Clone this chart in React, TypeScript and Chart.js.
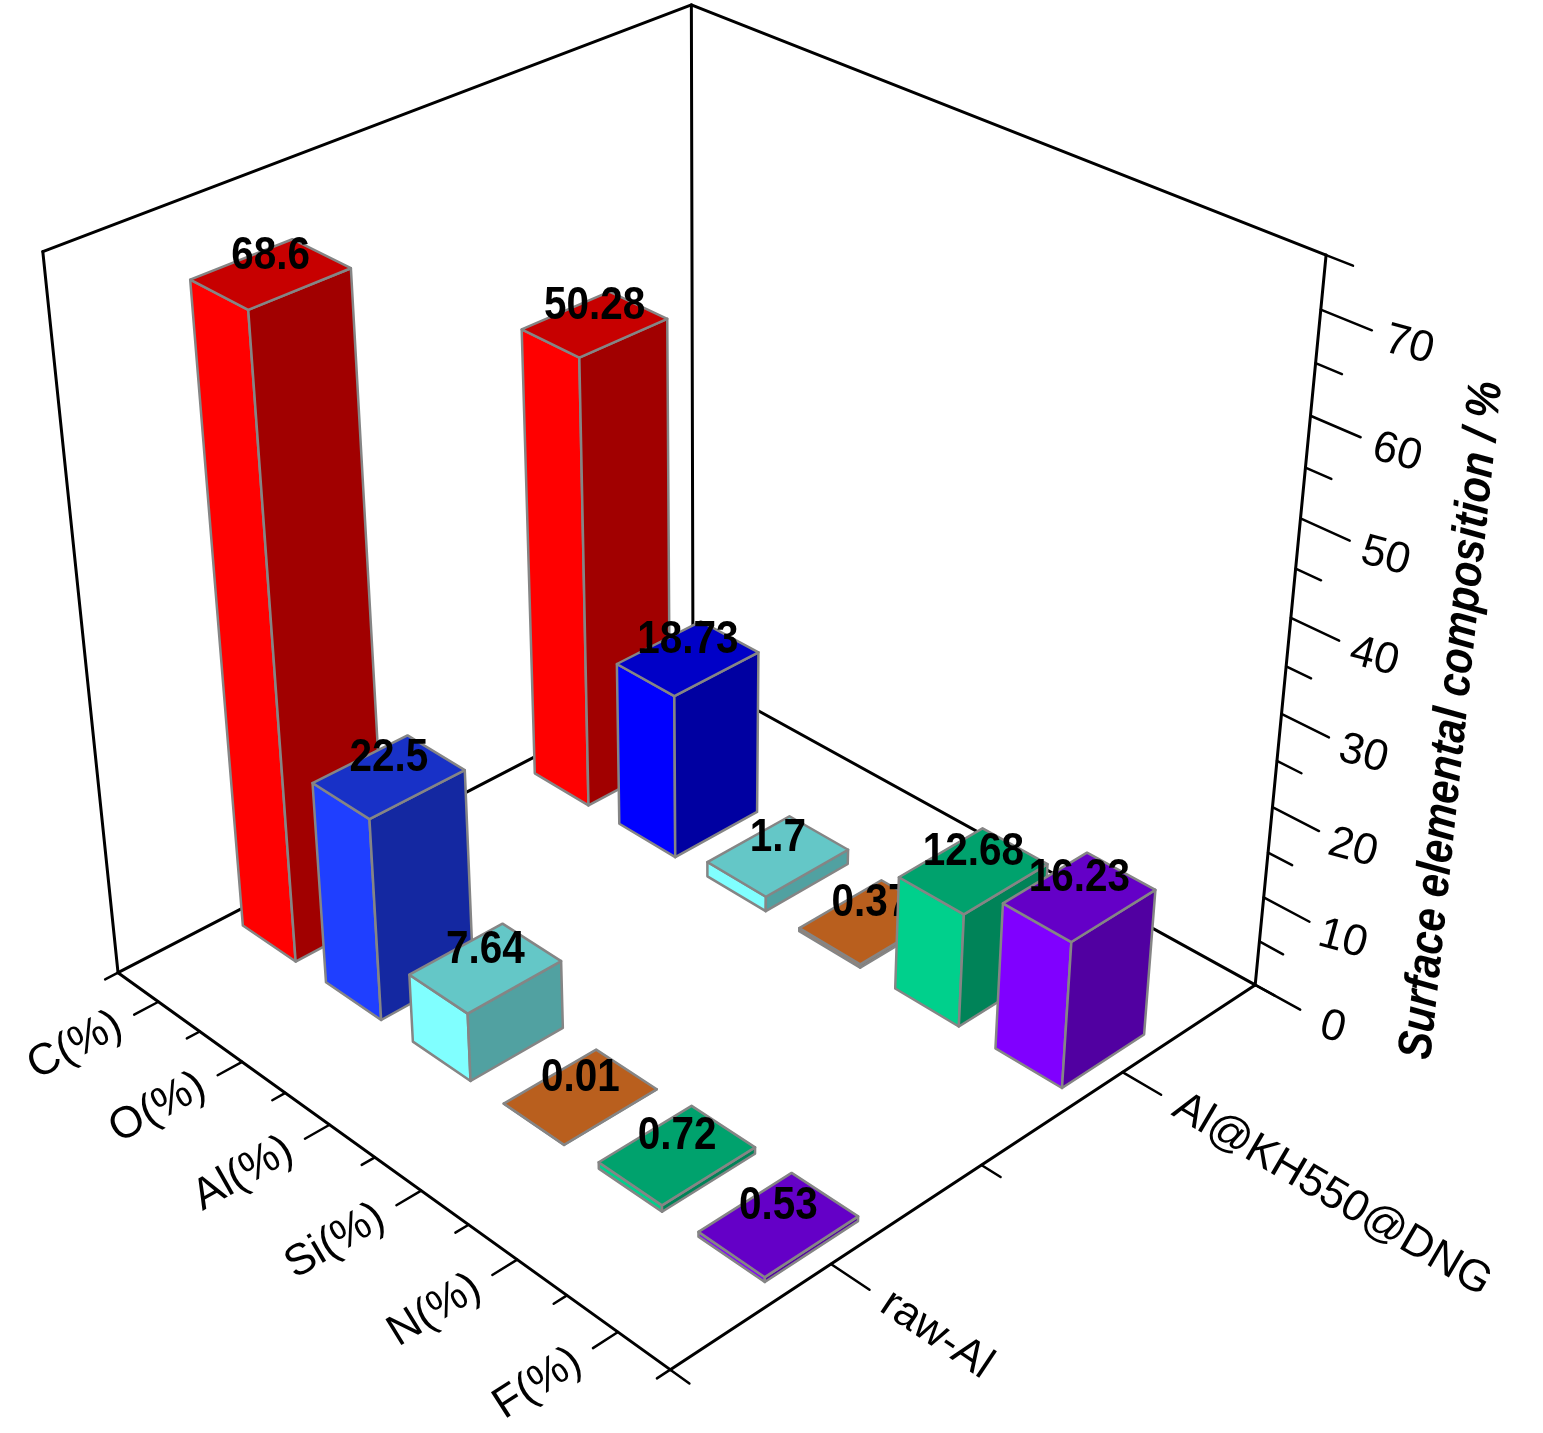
import { useEffect, useRef } from "react"
import { Chart, registerables } from "chart.js"

Chart.register(...registerables)

// ---- data ----
const categories = ["C(%)", "O(%)", "Al(%)", "Si(%)", "N(%)", "F(%)"]
const samples = ["raw-Al", "Al@KH550@DNG"]
const rawAl = [68.6, 22.5, 7.64, 0.01, 0.72, 0.53]
const alKH = [50.28, 18.73, 1.7, 0.37, 12.68, 16.23]
const zTicks = [0, 10, 20, 30, 40, 50, 60, 70]
const zMax = 75
const zTitle = "Surface elemental composition / %"

// base (front face) colour of every bar, per sample
const rawAlColors = ["#ff0000", "#1f3fff", "#80ffff", "#ed7a26", "#00d08c", "#8000ff"]
const alKHColors = ["#ff0000", "#0000ff", "#80ffff", "#ed7a26", "#00d08c", "#8000ff"]

const series = [rawAl, alKH]
const seriesColors = [rawAlColors, alKHColors]

// ---- 3D view: perspective camera looking at a unit cube ----
const W = 1543
const H = 1433
const CX = 592.8
const CY = 707.9
const FOCAL = 3813
const PITCH = (32.8 * Math.PI) / 180
const YAW = (42.13 * Math.PI) / 180
const ROLL = 0.0194
const CAM_LAT = 0.1411
const CAM_DIST = 4.509
const CAM_H = 2.854
const BOX_Z = 0.997
const BAR_U = 0.64
const BAR_V = 0.3

function project(u: number, v: number, z: number) {
  const a = u / categories.length
  const b = (v - samples.length) / samples.length
  const h = (z / zMax) * BOX_Z
  const lat = CAM_LAT + a * Math.sin(YAW) + b * Math.cos(YAW)
  const fwd = CAM_DIST - a * Math.cos(YAW) + b * Math.sin(YAW)
  const down = CAM_H - h
  const depth = fwd * Math.cos(PITCH) + down * Math.sin(PITCH)
  const yc = -fwd * Math.sin(PITCH) + down * Math.cos(PITCH)
  const X = (FOCAL * lat) / depth
  const Y = (FOCAL * yc) / depth
  return {
    x: CX + X * Math.cos(ROLL) + Y * Math.sin(ROLL),
    y: CY - X * Math.sin(ROLL) + Y * Math.cos(ROLL),
    depth,
  }
}

function shade(hex: string, k: number) {
  const n = parseInt(hex.slice(1), 16)
  const r = Math.round(((n >> 16) & 255) * k)
  const g = Math.round(((n >> 8) & 255) * k)
  const b = Math.round((n & 255) * k)
  return `rgb(${r},${g},${b})`
}

const bars3d = {
  id: "bars3d",
  afterDraw(chart: any) {
    const { ctx } = chart
    const xs = chart.scales.x
    const ys = chart.scales.y
    const nu = categories.length
    const nv = samples.length
    const pt = (u: number, v: number, z: number): [number, number] => {
      const p = project(u, v, z)
      return [xs.getPixelForValue(p.x), ys.getPixelForValue(p.y)]
    }
    const line = (a: [number, number], b: [number, number], w = 3, color = "#000") => {
      ctx.beginPath()
      ctx.moveTo(a[0], a[1])
      ctx.lineTo(b[0], b[1])
      ctx.strokeStyle = color
      ctx.lineWidth = w
      ctx.lineCap = "round"
      ctx.stroke()
    }
    const poly = (ps: [number, number][], fill: string) => {
      ctx.beginPath()
      ps.forEach((p, i) => (i ? ctx.lineTo(p[0], p[1]) : ctx.moveTo(p[0], p[1])))
      ctx.closePath()
      ctx.fillStyle = fill
      ctx.fill()
      ctx.strokeStyle = "#858585"
      ctx.lineWidth = 2.5
      ctx.lineJoin = "round"
      ctx.stroke()
    }
    const angle = (a: [number, number], b: [number, number]) => Math.atan2(b[1] - a[1], b[0] - a[0])

    ctx.save()

    // back frame
    line(pt(0, 0, 0), pt(0, nv, 0))
    line(pt(0, nv, 0), pt(nu, nv, 0))
    line(pt(0, 0, 0), pt(0, 0, zMax))
    line(pt(0, nv, 0), pt(0, nv, zMax))
    line(pt(nu, nv, 0), pt(nu, nv, zMax))
    line(pt(0, 0, zMax), pt(0, nv, zMax))
    line(pt(0, nv, zMax), pt(nu, nv, zMax))

    // bars, far to near
    const bars: { u: number; v: number; val: number; color: string; depth: number }[] = []
    series.forEach((vals, j) =>
      vals.forEach((val, i) => {
        const u = i + 0.5
        const v = j + 0.5
        bars.push({ u, v, val, color: seriesColors[j][i], depth: project(u, v, 0).depth })
      })
    )
    bars.sort((a, b) => b.depth - a.depth)
    for (const bar of bars) {
      const u0 = bar.u - BAR_U / 2
      const u1 = bar.u + BAR_U / 2
      const v0 = bar.v - BAR_V / 2
      const v1 = bar.v + BAR_V / 2
      const z1 = bar.val
      poly([pt(u0, v0, 0), pt(u1, v0, 0), pt(u1, v0, z1), pt(u0, v0, z1)], bar.color)
      poly([pt(u1, v0, 0), pt(u1, v1, 0), pt(u1, v1, z1), pt(u1, v0, z1)], shade(bar.color, 0.63))
      poly([pt(u0, v0, z1), pt(u1, v0, z1), pt(u1, v1, z1), pt(u0, v1, z1)], shade(bar.color, 0.78))
      const [tx, ty] = pt(bar.u, bar.v, z1)
      ctx.save()
      ctx.translate(tx, ty - 18)
      ctx.scale(0.88, 1)
      ctx.font = "bold 46px 'Liberation Sans', Arial, sans-serif"
      ctx.fillStyle = "#000"
      ctx.textAlign = "center"
      ctx.textBaseline = "middle"
      ctx.fillText(String(bar.val), 0, 0)
      ctx.restore()
    }

    // category axis (front-left)
    line(pt(0, 0, 0), pt(nu, 0, 0))
    for (let k = 0; k <= nu * 2; k++) {
      const u = k / 2
      const major = k % 2 === 1
      line(pt(u, 0, 0), pt(u, major ? -0.075 : -0.04, 0), 2.5)
    }
    ctx.font = "44px 'Liberation Sans', Arial, sans-serif"
    ctx.fillStyle = "#000"
    categories.forEach((c, i) => {
      const u = i + 0.5
      const p = pt(u, -0.12, 0)
      ctx.save()
      ctx.translate(p[0], p[1])
      ctx.rotate(angle(pt(u, 0, 0), pt(u, 1, 0)))
      ctx.textAlign = "right"
      ctx.textBaseline = "middle"
      ctx.fillText(c, 0, 0)
      ctx.restore()
    })

    // sample axis (front-right)
    line(pt(nu, 0, 0), pt(nu, nv, 0))
    for (let k = 0; k <= nv * 2; k++) {
      const v = k / 2
      const major = k % 2 === 1
      line(pt(nu, v, 0), pt(nu + (major ? 0.36 : 0.18), v, 0), 2.5)
    }
    ctx.font = "44px 'Liberation Sans', Arial, sans-serif"
    samples.forEach((s, j) => {
      const v = j + 0.5
      const p = pt(nu + 0.5, v, 0)
      ctx.save()
      ctx.translate(p[0], p[1])
      ctx.rotate(angle(pt(nu, v, 0), pt(nu + 1, v, 0)))
      ctx.textAlign = "left"
      ctx.textBaseline = "middle"
      ctx.fillText(s, 0, 0)
      ctx.restore()
    })

    // z axis ticks and labels
    for (let z = 0; z <= zMax; z += 5) {
      const major = z % 10 === 0
      line(pt(nu, nv, z), pt(nu + (major ? 0.42 : 0.22), nv, z), 2.5)
    }
    ctx.font = "44px 'Liberation Sans', Arial, sans-serif"
    zTicks.forEach((z) => {
      const p = pt(nu + 0.72, nv, z)
      ctx.save()
      ctx.translate(p[0], p[1])
      ctx.rotate((15 * Math.PI) / 180)
      ctx.textAlign = "center"
      ctx.textBaseline = "middle"
      ctx.fillText(String(z), 0, 0)
      ctx.restore()
    })

    // z axis title
    const tp = pt(nu + 1.4, nv, zMax / 2)
    ctx.save()
    ctx.translate(tp[0], tp[1])
    ctx.rotate((-84 * Math.PI) / 180)
    ctx.scale(0.86, 1)
    ctx.font = "italic bold 48px 'Liberation Sans', Arial, sans-serif"
    ctx.textAlign = "center"
    ctx.textBaseline = "middle"
    ctx.fillText(zTitle, 0, 0)
    ctx.restore()

    ctx.restore()
  },
}

export default function App() {
  const canvasRef = useRef<HTMLCanvasElement>(null)
  const chartRef = useRef<Chart | null>(null)

  useEffect(() => {
    if (!canvasRef.current) return
    if (chartRef.current) chartRef.current.destroy()

    chartRef.current = new Chart(canvasRef.current, {
      type: "scatter",
      data: { datasets: [] },
      options: {
        animation: false,
        responsive: true,
        maintainAspectRatio: false,
        layout: { padding: 0 },
        plugins: { legend: { display: false }, tooltip: { enabled: false } },
        scales: {
          x: { type: "linear", min: 0, max: W, display: false },
          y: { type: "linear", min: 0, max: H, reverse: true, display: false },
        },
      },
      plugins: [bars3d],
    })

    return () => {
      if (chartRef.current) {
        chartRef.current.destroy()
        chartRef.current = null
      }
    }
  }, [])

  return (
    <div style={{ position: "absolute", left: 0, top: 0, width: W, height: H, background: "#fff" }}>
      <canvas ref={canvasRef} />
    </div>
  )
}
